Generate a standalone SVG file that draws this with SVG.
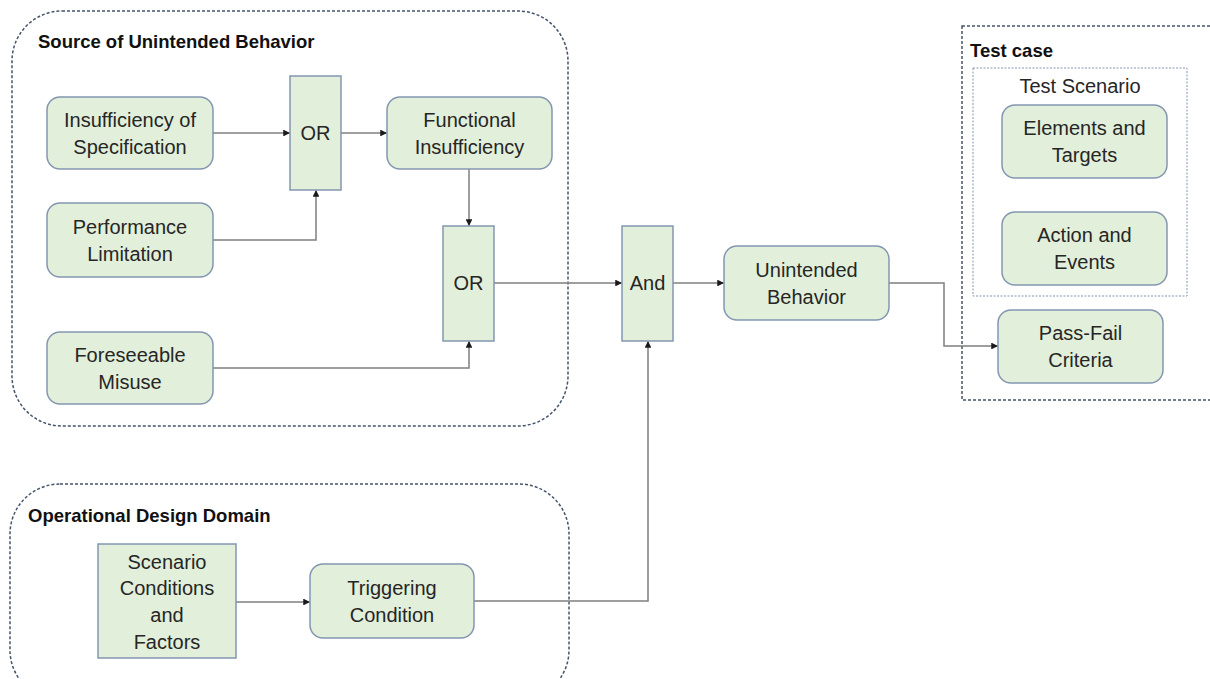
<svg xmlns="http://www.w3.org/2000/svg" width="1210" height="679" viewBox="0 0 1210 679">
<style>
.node{fill:#E2EFDA;stroke:#8496B0;stroke-width:1.5}
.t{font-family:"Liberation Sans",Arial,sans-serif;font-size:20px;fill:#262626;text-anchor:middle}
.title{font-family:"Liberation Sans",Arial,sans-serif;font-size:18.5px;font-weight:bold;fill:#111}
.group{fill:none;stroke:#44546A;stroke-width:1.5;stroke-dasharray:3 2}
.inner{fill:none;stroke:#8496B0;stroke-width:1;stroke-dasharray:2 1.5}
.conn{fill:none;stroke:#7F7F7F;stroke-width:1.5;marker-end:url(#ah)}
</style>
<defs>
<marker id="ah" viewBox="0 0 10 10" refX="10" refY="5" markerWidth="4.5" markerHeight="4.5" orient="auto" markerUnits="strokeWidth">
<path d="M0,0 L10,5 L0,10 z" fill="#1a1a1a"/>
</marker>
</defs>
<rect width="1210" height="679" fill="#fff"/>

<g id="group-source">
<rect class="group" x="12" y="11" width="556" height="415" rx="50" ry="50"/>
<text class="title" x="38" y="48">Source of Unintended Behavior</text>
</g>
<g id="group-odd">
<rect class="group" x="10" y="484" width="559" height="216" rx="50" ry="50"/>
<text class="title" x="28" y="522">Operational Design Domain</text>
</g>
<g id="group-testcase">
<rect class="group" x="962" y="26" width="270" height="374"/>
<text class="title" x="970" y="57">Test case</text>
</g>
<g id="group-testscenario">
<rect class="inner" x="973" y="68" width="214" height="228"/>
<text class="t" x="1080" y="93">Test Scenario</text>
</g>

<g id="connectors">
<path class="conn" d="M213,133 H290"/>
<path class="conn" d="M341,133 H387"/>
<path class="conn" d="M213,240 H316 V190"/>
<path class="conn" d="M469,169 V226"/>
<path class="conn" d="M213,368 H469 V341"/>
<path class="conn" d="M494,283 H622"/>
<path class="conn" d="M673,283 H724"/>
<path class="conn" d="M236,602 H310"/>
<path class="conn" d="M474,601 H648 V341"/>
<path class="conn" d="M889,283 H944 V346 H998"/>
</g>

<g id="node-insufficiency">
<rect class="node" x="47" y="97" width="166" height="72" rx="13"/>
<text class="t" x="130" y="127">Insufficiency of</text>
<text class="t" x="130" y="154">Specification</text>
</g>
<g id="node-or1">
<rect class="node" x="290" y="76" width="51" height="114"/>
<text class="t" x="315.5" y="140">OR</text>
</g>
<g id="node-functional">
<rect class="node" x="387" y="97" width="165" height="72" rx="13"/>
<text class="t" x="469.5" y="127">Functional</text>
<text class="t" x="469.5" y="154">Insufficiency</text>
</g>
<g id="node-performance">
<rect class="node" x="47" y="203" width="166" height="74" rx="13"/>
<text class="t" x="130" y="234">Performance</text>
<text class="t" x="130" y="261">Limitation</text>
</g>
<g id="node-or2">
<rect class="node" x="443" y="226" width="51" height="115"/>
<text class="t" x="468.5" y="290">OR</text>
</g>
<g id="node-foreseeable">
<rect class="node" x="47" y="332" width="166" height="72" rx="13"/>
<text class="t" x="130" y="362">Foreseeable</text>
<text class="t" x="130" y="389">Misuse</text>
</g>
<g id="node-and">
<rect class="node" x="622" y="226" width="51" height="115"/>
<text class="t" x="647.5" y="290">And</text>
</g>
<g id="node-unintended">
<rect class="node" x="724" y="246" width="165" height="74" rx="13"/>
<text class="t" x="806.5" y="277">Unintended</text>
<text class="t" x="806.5" y="304">Behavior</text>
</g>
<g id="node-elements">
<rect class="node" x="1002" y="105" width="165" height="73" rx="13"/>
<text class="t" x="1084.5" y="135">Elements and</text>
<text class="t" x="1084.5" y="162">Targets</text>
</g>
<g id="node-action">
<rect class="node" x="1002" y="212" width="165" height="73" rx="13"/>
<text class="t" x="1084.5" y="242">Action and</text>
<text class="t" x="1084.5" y="269">Events</text>
</g>
<g id="node-passfail">
<rect class="node" x="998" y="310" width="165" height="73" rx="13"/>
<text class="t" x="1080.5" y="340">Pass-Fail</text>
<text class="t" x="1080.5" y="367">Criteria</text>
</g>
<g id="node-scenario">
<rect class="node" x="98" y="544" width="138" height="114"/>
<text class="t" x="167" y="569">Scenario</text>
<text class="t" x="167" y="595">Conditions</text>
<text class="t" x="167" y="622">and</text>
<text class="t" x="167" y="649">Factors</text>
</g>
<g id="node-triggering">
<rect class="node" x="310" y="564" width="164" height="74" rx="13"/>
<text class="t" x="392" y="595">Triggering</text>
<text class="t" x="392" y="622">Condition</text>
</g>
</svg>
